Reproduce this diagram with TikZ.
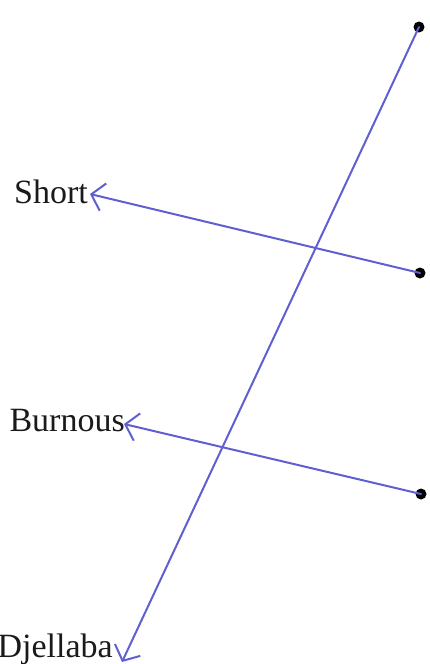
\documentclass[tikz,border=0pt]{standalone}
\usepackage{fontspec}
\setmainfont{Liberation Serif}
\usetikzlibrary{arrows.meta}
\definecolor{pen}{HTML}{5F5FD2}
\definecolor{ink}{HTML}{1A1A1A}
\begin{document}
\begin{tikzpicture}[x=1pt,y=-1pt,
  dotnode/.style={circle,fill=black,inner sep=0pt,minimum size=11pt},
  lbl/.style={inner sep=0pt,anchor=base east,text=ink,font=\fontsize{34}{38}\selectfont},
  penline/.style={draw=pen,line width=2pt,line cap=round,-{Straight Barb[length=12pt,width=28pt,line width=2pt]}}]
\useasboundingbox (0,0) rectangle (430,664);
\node[dotnode] (d1) at (419,27) {};
\node[dotnode] (d2) at (420,273) {};
\node[dotnode] (d3) at (421,494) {};
\node[lbl] (short) at (88,203) {Short};
\node[lbl] (burnous) at (125,431) {Burnous};
\node[lbl] (djellaba) at (113,657) {Djellaba};
\coordinate (t1) at (90,194);
\coordinate (t2) at (124,424);
\coordinate (t3) at (122,662);
\draw[penline] (d2.center) -- (t1);
\draw[penline] (d3.center) -- (t2);
\draw[penline] (d1.center) -- (t3);
\end{tikzpicture}
\end{document}
